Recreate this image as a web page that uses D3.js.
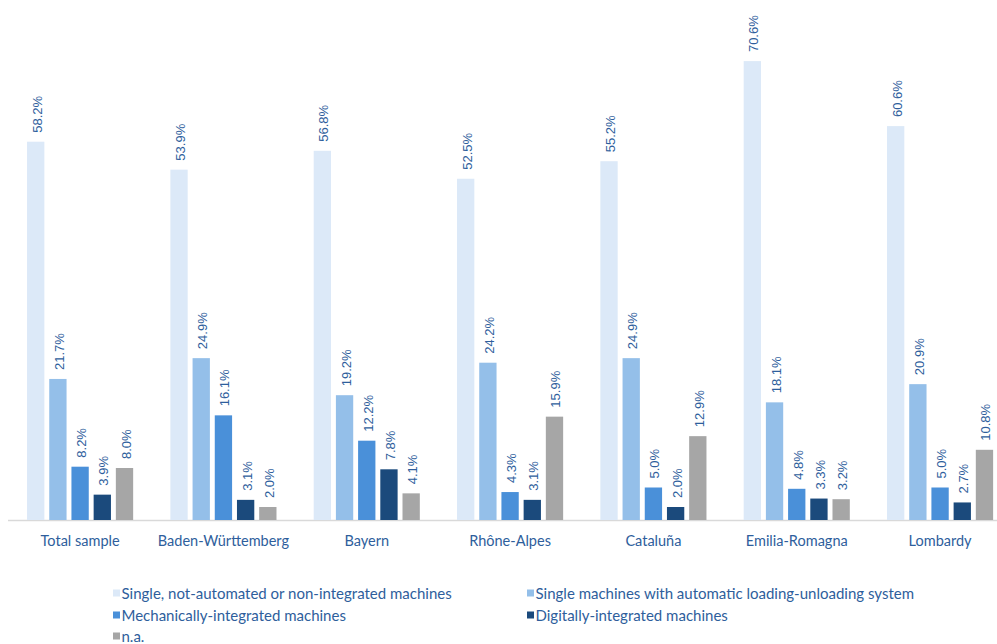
<!DOCTYPE html>
<html>
<head>
<meta charset="utf-8">
<script src="https://cdn.jsdelivr.net/npm/d3@7/dist/d3.min.js"></script>
<style>
  html, body { margin: 0; padding: 0; background: #fff; }
  svg { display: block; }
</style>
</head>
<body>
<svg id="chart" width="997" height="644"></svg>
<script>
// Regions and share of machine types (%)
const categories = ["Total sample", "Baden-Württemberg", "Bayern", "Rhône-Alpes", "Cataluña", "Emilia-Romagna", "Lombardy"];
const seriesNames = [
  "Single, not-automated or non-integrated machines",
  "Single machines with automatic loading-unloading system",
  "Mechanically-integrated machines",
  "Digitally-integrated machines",
  "n.a."
];
const singleNotAutomated = [58.2, 53.9, 56.8, 52.5, 55.2, 70.6, 60.6];
const singleAutoLoading  = [21.7, 24.9, 19.2, 24.2, 24.9, 18.1, 20.9];
const mechIntegrated     = [8.2, 16.1, 12.2, 4.3, 5.0, 4.8, 5.0];
const digitIntegrated    = [3.9, 3.1, 7.8, 3.1, 2.0, 3.3, 2.7];
const notAvailable       = [8.0, 2.0, 4.1, 15.9, 12.9, 3.2, 10.8];

const seriesValues = [singleNotAutomated, singleAutoLoading, mechIntegrated, digitIntegrated, notAvailable];
const colors = ["#dce9f8", "#94bfe9", "#4a90d9", "#1b4a7c", "#a6a6a6"];

const svg = d3.select("#chart");
const baseY = 520;

const x0 = d3.scaleBand().domain(categories).range([8.3, 1011.6]).padding(0);
const x1 = d3.scaleBand().domain(d3.range(seriesNames.length))
  .range([16.3, 127.3]).paddingInner(0.22).paddingOuter(0.11);
const y = d3.scaleLinear().domain([0, 80]).range([baseY, 0]);

// baseline
svg.append("line")
  .attr("x1", 8).attr("x2", 997)
  .attr("y1", baseY + 0.5).attr("y2", baseY + 0.5)
  .attr("stroke", "#d9d9d9").attr("stroke-width", 1.5);

const groups = svg.selectAll("g.cat")
  .data(categories)
  .join("g")
  .attr("class", "cat")
  .attr("transform", d => `translate(${x0(d)},0)`);

const cells = groups.selectAll("g.bar")
  .data((c, ci) => seriesValues.map((vals, si) => ({ si, v: vals[ci] })))
  .join("g").attr("class", "bar");

cells.append("rect")
  .attr("x", d => x1(d.si))
  .attr("width", x1.bandwidth())
  .attr("y", d => y(d.v))
  .attr("height", d => baseY - y(d.v))
  .attr("fill", d => colors[d.si]);

cells.append("text")
  .attr("transform", d => `translate(${x1(d.si) + x1.bandwidth() / 2 + 1.5},${y(d.v) - 9}) rotate(-90)`)
  .attr("dominant-baseline", "central")
  .attr("text-anchor", "start")
  .attr("font-family", "'Liberation Sans', Arial, sans-serif")
  .attr("font-size", 13)
  .attr("fill", "#2e5e9c")
  .text(d => d.v.toFixed(1) + "%");

// category labels
svg.selectAll("text.cat-label")
  .data(categories)
  .join("text")
  .attr("class", "cat-label")
  .attr("x", d => x0(d) + 16.3 + 111 / 2)
  .attr("y", 546)
  .attr("text-anchor", "middle")
  .attr("font-family", "Lato, 'Open Sans', sans-serif")
  .attr("font-size", 14.5)
  .attr("fill", "#2e5e9c")
  .text(d => d);

// legend
const legendPos = [
  [113, 593], [527, 593],
  [113, 615], [527, 615],
  [113, 636]
];
const legend = svg.selectAll("g.legend")
  .data(seriesNames)
  .join("g")
  .attr("class", "legend")
  .attr("transform", (d, i) => `translate(${legendPos[i][0]},${legendPos[i][1]})`);
legend.append("rect")
  .attr("x", 0).attr("y", -3.5).attr("width", 7).attr("height", 7)
  .attr("fill", (d, i) => colors[i]);
legend.append("text")
  .attr("x", 8.5).attr("y", 0)
  .attr("dominant-baseline", "central")
  .attr("font-family", "Lato, 'Open Sans', sans-serif")
  .attr("font-size", 15)
  .attr("fill", "#2e5e9c")
  .text(d => d);
</script>
</body>
</html>
